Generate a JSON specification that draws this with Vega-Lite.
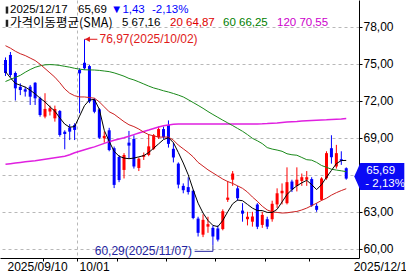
{
  "$schema": "https://vega.github.io/schema/vega-lite/v6.json",
  "width": 359,
  "height": 258,
  "autosize": "none",
  "padding": {"left": 0, "top": 0, "right": 47, "bottom": 17},
  "background": "#ffffff",
  "config": {"view": {"stroke": null}, "text": {"font": "Liberation Sans"}},
  "datasets": {
    "px": [
      {"d":"2025-09-10","i":0,"o":75.29,"h":75.5,"l":74.0,"c":74.24,"m5":74.35,"m20":76.45,"m60":73.55,"m120":66.85},
      {"d":"2025-09-11","i":1,"o":75.7,"h":75.94,"l":73.92,"c":74.08,"m5":73.85,"m20":76.25,"m60":73.72,"m120":66.9},
      {"d":"2025-09-12","i":2,"o":74.24,"h":74.36,"l":72.01,"c":73.0,"m5":73.4,"m20":76.0,"m60":73.88,"m120":66.95},
      {"d":"2025-09-15","i":3,"o":73.12,"h":73.4,"l":72.45,"c":72.86,"m5":73.25,"m20":75.8,"m60":74.05,"m120":67.0},
      {"d":"2025-09-16","i":4,"o":72.92,"h":73.12,"l":72.33,"c":72.73,"m5":73.1,"m20":75.65,"m60":74.3,"m120":67.05},
      {"d":"2025-09-17","i":5,"o":73.13,"h":73.27,"l":71.65,"c":72.32,"m5":72.85,"m20":75.45,"m60":74.52,"m120":67.1},
      {"d":"2025-09-18","i":6,"o":73.45,"h":73.5,"l":71.65,"c":72.19,"m5":72.55,"m20":75.25,"m60":74.7,"m120":67.14},
      {"d":"2025-09-19","i":7,"o":72.19,"h":72.32,"l":70.7,"c":70.84,"m5":72.2,"m20":74.95,"m60":74.82,"m120":67.2},
      {"d":"2025-09-22","i":8,"o":70.71,"h":72.6,"l":70.57,"c":71.33,"m5":71.9,"m20":74.6,"m60":74.9,"m120":67.26},
      {"d":"2025-09-23","i":9,"o":71.12,"h":71.6,"l":70.8,"c":71.38,"m5":71.5,"m20":74.25,"m60":74.92,"m120":67.32},
      {"d":"2025-09-24","i":10,"o":70.57,"h":71.6,"l":70.3,"c":71.33,"m5":71.15,"m20":73.9,"m60":74.9,"m120":67.38},
      {"d":"2025-09-25","i":11,"o":71.16,"h":71.24,"l":69.08,"c":69.22,"m5":70.6,"m20":73.45,"m60":74.85,"m120":67.44},
      {"d":"2025-09-26","i":12,"o":69.49,"h":69.6,"l":68.06,"c":69.3,"m5":70.1,"m20":72.95,"m60":74.78,"m120":67.5},
      {"d":"2025-09-29","i":13,"o":69.83,"h":70.1,"l":68.81,"c":69.49,"m5":69.85,"m20":72.6,"m60":74.71,"m120":67.62},
      {"d":"2025-09-30","i":14,"o":70.03,"h":70.17,"l":68.81,"c":69.63,"m5":69.9,"m20":72.4,"m60":74.62,"m120":67.78},
      {"d":"2025-10-01","i":15,"o":74.48,"h":74.62,"l":70.98,"c":74.21,"m5":70.75,"m20":72.3,"m60":74.55,"m120":67.9},
      {"d":"2025-10-02","i":16,"o":75.07,"h":76.97,"l":74.5,"c":74.62,"m5":71.6,"m20":72.3,"m60":74.5,"m120":68.02},
      {"d":"2025-10-03","i":17,"o":74.8,"h":74.9,"l":71.8,"c":71.93,"m5":72.05,"m20":72.25,"m60":74.49,"m120":68.14},
      {"d":"2025-10-06","i":18,"o":72.1,"h":72.2,"l":70.98,"c":71.1,"m5":72.1,"m20":72.2,"m60":74.48,"m120":68.26},
      {"d":"2025-10-07","i":19,"o":71.3,"h":71.4,"l":68.9,"c":69.0,"m5":71.3,"m20":71.9,"m60":74.45,"m120":68.4},
      {"d":"2025-10-08","i":20,"o":68.95,"h":69.5,"l":68.6,"c":69.15,"m5":69.6,"m20":71.5,"m60":74.4,"m120":68.54},
      {"d":"2025-10-09","i":21,"o":69.6,"h":69.8,"l":67.9,"c":68.0,"m5":68.7,"m20":71.1,"m60":74.35,"m120":68.68},
      {"d":"2025-10-10","i":22,"o":68.15,"h":68.28,"l":64.92,"c":65.18,"m5":67.9,"m20":70.9,"m60":74.25,"m120":68.8},
      {"d":"2025-10-13","i":23,"o":67.44,"h":67.6,"l":65.4,"c":65.57,"m5":67.5,"m20":70.6,"m60":74.12,"m120":68.9},
      {"d":"2025-10-14","i":24,"o":66.39,"h":67.75,"l":65.7,"c":67.6,"m5":67.35,"m20":70.3,"m60":73.98,"m120":69.0},
      {"d":"2025-10-15","i":25,"o":68.6,"h":69.55,"l":67.3,"c":68.36,"m5":67.3,"m20":70.05,"m60":73.8,"m120":69.12},
      {"d":"2025-10-16","i":26,"o":68.9,"h":69.2,"l":66.5,"c":66.67,"m5":67.35,"m20":69.9,"m60":73.68,"m120":69.25},
      {"d":"2025-10-17","i":27,"o":66.55,"h":67.4,"l":66.3,"c":67.3,"m5":67.45,"m20":69.7,"m60":73.52,"m120":69.38},
      {"d":"2025-10-20","i":28,"o":67.45,"h":67.8,"l":67.2,"c":67.6,"m5":67.55,"m20":69.45,"m60":73.35,"m120":69.5},
      {"d":"2025-10-21","i":29,"o":67.6,"h":69.3,"l":67.5,"c":68.3,"m5":67.8,"m20":69.25,"m60":73.18,"m120":69.62},
      {"d":"2025-10-22","i":30,"o":68.1,"h":69.3,"l":68.0,"c":69.2,"m5":68.15,"m20":69.15,"m60":73.03,"m120":69.75},
      {"d":"2025-10-23","i":31,"o":69.04,"h":69.9,"l":68.9,"c":69.7,"m5":68.5,"m20":69.05,"m60":72.92,"m120":69.86},
      {"d":"2025-10-24","i":32,"o":69.7,"h":69.9,"l":68.9,"c":69.04,"m5":68.85,"m20":69.05,"m60":72.8,"m120":69.96},
      {"d":"2025-10-27","i":33,"o":70.03,"h":70.4,"l":68.2,"c":68.5,"m5":69.0,"m20":69.05,"m60":72.7,"m120":70.03},
      {"d":"2025-10-28","i":34,"o":68.1,"h":68.6,"l":67.0,"c":67.4,"m5":68.6,"m20":68.8,"m60":72.58,"m120":70.08},
      {"d":"2025-10-29","i":35,"o":66.9,"h":67.0,"l":64.9,"c":65.2,"m5":67.8,"m20":68.4,"m60":72.45,"m120":70.1},
      {"d":"2025-10-30","i":36,"o":65.1,"h":65.3,"l":64.5,"c":64.75,"m5":66.95,"m20":68.1,"m60":72.3,"m120":70.12},
      {"d":"2025-10-31","i":37,"o":65.0,"h":65.8,"l":64.4,"c":64.6,"m5":66.0,"m20":67.8,"m60":72.08,"m120":70.12},
      {"d":"2025-11-03","i":38,"o":64.7,"h":64.8,"l":62.4,"c":62.5,"m5":64.8,"m20":67.45,"m60":71.85,"m120":70.12},
      {"d":"2025-11-04","i":39,"o":62.45,"h":62.6,"l":61.0,"c":61.3,"m5":63.7,"m20":67.0,"m60":71.62,"m120":70.12},
      {"d":"2025-11-05","i":40,"o":61.15,"h":62.8,"l":60.95,"c":62.35,"m5":62.9,"m20":66.7,"m60":71.38,"m120":70.12},
      {"d":"2025-11-06","i":41,"o":61.8,"h":62.6,"l":61.3,"c":62.0,"m5":62.3,"m20":66.4,"m60":71.12,"m120":70.12},
      {"d":"2025-11-07","i":42,"o":61.7,"h":61.9,"l":60.29,"c":61.0,"m5":61.9,"m20":66.15,"m60":70.88,"m120":70.12},
      {"d":"2025-11-10","i":43,"o":61.65,"h":61.9,"l":60.6,"c":60.75,"m5":61.8,"m20":65.9,"m60":70.65,"m120":70.12},
      {"d":"2025-11-11","i":44,"o":61.6,"h":63.2,"l":61.5,"c":63.05,"m5":62.3,"m20":65.65,"m60":70.42,"m120":70.12},
      {"d":"2025-11-12","i":45,"o":63.97,"h":65.5,"l":63.8,"c":64.15,"m5":63.0,"m20":65.45,"m60":70.2,"m120":70.12},
      {"d":"2025-11-13","i":46,"o":65.6,"h":66.3,"l":65.1,"c":66.1,"m5":63.65,"m20":65.3,"m60":69.98,"m120":70.12},
      {"d":"2025-11-14","i":47,"o":64.9,"h":65.1,"l":63.9,"c":64.1,"m5":63.95,"m20":65.1,"m60":69.75,"m120":70.12},
      {"d":"2025-11-17","i":48,"o":63.1,"h":63.7,"l":62.2,"c":62.85,"m5":63.9,"m20":64.9,"m60":69.52,"m120":70.12},
      {"d":"2025-11-18","i":49,"o":62.4,"h":63.0,"l":61.9,"c":62.6,"m5":63.6,"m20":64.6,"m60":69.25,"m120":70.12},
      {"d":"2025-11-19","i":50,"o":62.2,"h":63.0,"l":61.8,"c":62.62,"m5":63.3,"m20":64.2,"m60":68.95,"m120":70.12},
      {"d":"2025-11-20","i":51,"o":63.6,"h":63.7,"l":61.6,"c":61.8,"m5":63.1,"m20":63.85,"m60":68.75,"m120":70.12},
      {"d":"2025-11-21","i":52,"o":61.94,"h":63.0,"l":61.7,"c":62.75,"m5":63.1,"m20":63.45,"m60":68.52,"m120":70.13},
      {"d":"2025-11-24","i":53,"o":62.4,"h":62.6,"l":61.6,"c":61.8,"m5":62.95,"m20":63.15,"m60":68.2,"m120":70.15},
      {"d":"2025-11-25","i":54,"o":62.4,"h":63.9,"l":62.2,"c":63.65,"m5":62.95,"m20":63.0,"m60":68.08,"m120":70.18},
      {"d":"2025-11-26","i":55,"o":63.6,"h":64.9,"l":63.3,"c":64.5,"m5":63.2,"m20":62.95,"m60":68.0,"m120":70.2},
      {"d":"2025-11-28","i":56,"o":64.5,"h":65.3,"l":63.6,"c":64.7,"m5":63.8,"m20":62.9,"m60":67.9,"m120":70.24},
      {"d":"2025-12-01","i":57,"o":63.7,"h":66.6,"l":63.6,"c":65.4,"m5":64.4,"m20":62.92,"m60":67.7,"m120":70.27},
      {"d":"2025-12-02","i":58,"o":65.45,"h":65.6,"l":64.6,"c":64.8,"m5":64.8,"m20":62.98,"m60":67.62,"m120":70.3},
      {"d":"2025-12-03","i":59,"o":65.1,"h":66.6,"l":64.65,"c":65.6,"m5":65.1,"m20":63.03,"m60":67.58,"m120":70.32},
      {"d":"2025-12-04","i":60,"o":65.5,"h":66.1,"l":65.1,"c":65.8,"m5":65.35,"m20":63.15,"m60":67.4,"m120":70.35},
      {"d":"2025-12-05","i":61,"o":65.6,"h":66.3,"l":65.1,"c":65.8,"m5":65.55,"m20":63.3,"m60":67.22,"m120":70.37},
      {"d":"2025-12-08","i":62,"o":65.65,"h":65.8,"l":63.4,"c":63.5,"m5":65.2,"m20":63.5,"m60":67.18,"m120":70.39},
      {"d":"2025-12-09","i":63,"o":63.48,"h":63.7,"l":63.0,"c":63.16,"m5":64.8,"m20":63.7,"m60":67.0,"m120":70.41},
      {"d":"2025-12-10","i":64,"o":63.97,"h":65.8,"l":63.9,"c":65.7,"m5":65.2,"m20":63.92,"m60":66.75,"m120":70.43},
      {"d":"2025-12-11","i":65,"o":65.72,"h":67.9,"l":65.6,"c":67.75,"m5":65.8,"m20":64.1,"m60":66.6,"m120":70.45},
      {"d":"2025-12-12","i":66,"o":68.15,"h":69.2,"l":66.9,"c":67.42,"m5":66.35,"m20":64.35,"m60":66.45,"m120":70.48},
      {"d":"2025-12-15","i":67,"o":66.67,"h":68.42,"l":66.5,"c":67.75,"m5":66.9,"m20":64.55,"m60":66.38,"m120":70.5},
      {"d":"2025-12-16","i":68,"o":67.26,"h":67.9,"l":66.8,"c":67.12,"m5":67.15,"m20":64.72,"m60":66.32,"m120":70.52},
      {"d":"2025-12-17","i":69,"o":66.53,"h":66.6,"l":65.6,"c":65.69,"m5":67.16,"m20":64.87,"m60":66.25,"m120":70.55}
    ]
  },
  "data": {"name": "px"},
  "layer": [
    {
      "mark": {"type": "rule", "strokeWidth": 1},
      "encoding": {
        "x": {
          "field": "i", "type": "quantitative", "title": null,
          "scale": {"domain": [-0.1, 70.57], "nice": false, "zero": false},
          "axis": {
            "orient": "bottom", "title": null,
            "values": [-0.1, 2.5, 7.5, 12.5, 14.5, 17.5, 22.5, 27.5, 32.5, 37.5, 42.5, 47.5, 52.5, 56.5, 61.5, 66.5, 70],
            "labelExpr": "datum.value == -0.1 ? '2025/09/10' : datum.value == 14.5 ? '10/01' : datum.value == 37.5 ? '11/03' : datum.value == 56.5 ? '12/01' : datum.value == 70 ? '2025/12/17' : ''",
            "labelAlign": "left", "labelOffset": 2, "labelPadding": 0,
            "labelFont": "Liberation Sans", "labelFontSize": 12, "labelColor": "#000000",
            "labelBound": false, "labelOverlap": false, "labelFlush": false,
            "tickSize": 3, "tickColor": "#000000",
            "tickOpacity": {"condition": {"test": "datum.value == -0.1 || datum.value == 70", "value": 0}, "value": 1},
            "grid": true, "gridDash": [3, 3], "gridColor": "#b8b8b8",
            "gridOpacity": {"condition": {"test": "datum.value == 14.5 || datum.value == 37.5 || datum.value == 56.5", "value": 1}, "value": 0},
            "domainColor": "#000000"
          }
        },
        "y": {
          "field": "l", "type": "quantitative", "title": null,
          "scale": {"domain": [59.26, 80.15], "nice": false, "zero": false},
          "axis": {
            "orient": "right", "title": null,
            "values": [60, 60.75, 61.5, 62.25, 63, 63.75, 64.5, 65.25, 66, 66.75, 67.5, 68.25, 69, 69.75, 70.5, 71.25, 72, 72.75, 73.5, 74.25, 75, 75.75, 76.5, 77.25, 78, 78.75, 79.5],
            "labelExpr": "datum.value % 3 == 0 && datum.value != 66 ? replace(format(datum.value, '.2f'), '.', ',') : ''",
            "labelFont": "Liberation Sans", "labelFontSize": 12, "labelColor": "#000000",
            "labelPadding": 1, "labelBound": false, "labelOverlap": false, "labelFlush": false,
            "tickSize": 3, "tickColor": "#000000",
            "grid": true, "gridDash": [3, 3], "gridColor": "#b8b8b8",
            "gridOpacity": {"condition": {"test": "datum.value % 3 == 0", "value": 1}, "value": 0},
            "domainColor": "#000000"
          }
        },
        "y2": {"field": "h"},
        "color": {"condition": {"test": "datum.c >= datum.o", "value": "#ff0000"}, "value": "#0000ff"}
      }
    },
    {
      "mark": {"type": "bar", "width": 3},
      "encoding": {
        "x": {"field": "i", "type": "quantitative", "title": null},
        "y": {"field": "o", "type": "quantitative", "title": null},
        "y2": {"field": "c"},
        "color": {"condition": {"test": "datum.c >= datum.o", "value": "#ff0000"}, "value": "#0000ff"}
      }
    },
    {
      "mark": {"type": "line", "color": "#e020e0", "strokeWidth": 1.5},
      "encoding": {
        "x": {"field": "i", "type": "quantitative", "title": null},
        "y": {"field": "m120", "type": "quantitative", "title": null}
      }
    },
    {
      "mark": {"type": "line", "color": "#1a8a1a", "strokeWidth": 1},
      "encoding": {
        "x": {"field": "i", "type": "quantitative", "title": null},
        "y": {"field": "m60", "type": "quantitative", "title": null}
      }
    },
    {
      "mark": {"type": "line", "color": "#cc2020", "strokeWidth": 1},
      "encoding": {
        "x": {"field": "i", "type": "quantitative", "title": null},
        "y": {"field": "m20", "type": "quantitative", "title": null}
      }
    },
    {
      "mark": {"type": "line", "color": "#000000", "strokeWidth": 1},
      "encoding": {
        "x": {"field": "i", "type": "quantitative", "title": null},
        "y": {"field": "m5", "type": "quantitative", "title": null}
      }
    },
    {
      "data": {"values": [{"i": 16, "i2": 18.6, "p": 76.97, "t": "76,97(2025/10/02)"}]},
      "layer": [
        {
          "mark": {"type": "rule", "color": "#e01a1a", "strokeWidth": 1},
          "encoding": {
            "x": {"field": "i", "type": "quantitative", "title": null},
            "x2": {"field": "i2"},
            "y": {"field": "p", "type": "quantitative", "title": null}
          }
        },
        {
          "mark": {"type": "point", "shape": "triangle-left", "filled": true, "size": 30, "color": "#e01a1a", "opacity": 1, "xOffset": 3},
          "encoding": {
            "x": {"field": "i", "type": "quantitative", "title": null},
            "y": {"field": "p", "type": "quantitative", "title": null}
          }
        },
        {
          "mark": {"type": "text", "align": "left", "baseline": "middle", "dx": 15, "color": "#e01a1a", "fontSize": 12, "font": "Liberation Sans"},
          "encoding": {
            "x": {"field": "i", "type": "quantitative", "title": null},
            "y": {"field": "p", "type": "quantitative", "title": null},
            "text": {"field": "t"}
          }
        }
      ]
    },
    {
      "data": {"values": [{"i": 42, "i0": 38.3, "p": 60.29, "p0": 59.8, "t": "60,29(2025/11/07)"}]},
      "layer": [
        {
          "mark": {"type": "rule", "color": "#2424a0", "strokeWidth": 1},
          "encoding": {
            "x": {"field": "i0", "type": "quantitative", "title": null},
            "x2": {"field": "i"},
            "y": {"field": "p0", "type": "quantitative", "title": null}
          }
        },
        {
          "mark": {"type": "rule", "color": "#2424a0", "strokeWidth": 1},
          "encoding": {
            "x": {"field": "i", "type": "quantitative", "title": null},
            "y": {"field": "p", "type": "quantitative", "title": null},
            "y2": {"field": "p0"}
          }
        },
        {
          "mark": {"type": "text", "align": "right", "baseline": "middle", "dx": -21, "dy": 6, "color": "#2424a0", "fontSize": 12, "font": "Liberation Sans"},
          "encoding": {
            "x": {"field": "i", "type": "quantitative", "title": null},
            "y": {"field": "p", "type": "quantitative", "title": null},
            "text": {"field": "t"}
          }
        }
      ]
    },
    {
      "data": {"values": [{"x0": -0.1, "xm": 0.3, "y1": 79.38, "y2": 78.29, "a1": 79.62, "b1": 79.05, "a2": 78.55, "b2": 77.98, "bx": 75.69, "by": 65.69}]},
      "layer": [
        {
          "mark": {"type": "rule", "color": "#222222", "strokeWidth": 2.5},
          "encoding": {"x": {"field": "xm", "type": "quantitative", "title": null}, "y": {"field": "a1", "type": "quantitative", "title": null}, "y2": {"field": "b1"}}
        },
        {
          "mark": {"type": "rule", "color": "#222222", "strokeWidth": 2.5},
          "encoding": {"x": {"field": "xm", "type": "quantitative", "title": null}, "y": {"field": "a2", "type": "quantitative", "title": null}, "y2": {"field": "b2"}}
        },
        {
          "mark": {"type": "text", "align": "left", "baseline": "middle", "dx": 5, "color": "#000000", "fontSize": 11.5, "font": "Liberation Sans"},
          "encoding": {"x": {"field": "x0", "type": "quantitative", "title": null}, "y": {"field": "y1", "type": "quantitative", "title": null}, "text": {"value": "2025/12/17"}}
        },
        {
          "mark": {"type": "text", "align": "left", "baseline": "middle", "dx": 73, "color": "#000000", "fontSize": 11.5, "font": "Liberation Sans"},
          "encoding": {"x": {"field": "x0", "type": "quantitative", "title": null}, "y": {"field": "y1", "type": "quantitative", "title": null}, "text": {"value": "65,69"}}
        },
        {
          "mark": {"type": "text", "align": "left", "baseline": "middle", "dx": 106, "color": "#0000ff", "fontSize": 11.5, "font": "Liberation Sans"},
          "encoding": {"x": {"field": "x0", "type": "quantitative", "title": null}, "y": {"field": "y1", "type": "quantitative", "title": null}, "text": {"value": "▼1,43"}}
        },
        {
          "mark": {"type": "text", "align": "left", "baseline": "middle", "dx": 147, "color": "#0000ff", "fontSize": 11.5, "font": "Liberation Sans"},
          "encoding": {"x": {"field": "x0", "type": "quantitative", "title": null}, "y": {"field": "y1", "type": "quantitative", "title": null}, "text": {"value": "-2,13%"}}
        },
        {
          "mark": {"type": "text", "align": "left", "baseline": "middle", "dx": 5, "color": "#000000", "fontSize": 12.5, "font": "Noto Sans CJK KR"},
          "encoding": {"x": {"field": "x0", "type": "quantitative", "title": null}, "y": {"field": "y2", "type": "quantitative", "title": null}, "text": {"value": "가격이동평균(SMA)"}}
        },
        {
          "mark": {"type": "text", "align": "left", "baseline": "middle", "dx": 117, "color": "#000000", "fontSize": 11.5, "font": "Liberation Sans"},
          "encoding": {"x": {"field": "x0", "type": "quantitative", "title": null}, "y": {"field": "y2", "type": "quantitative", "title": null}, "text": {"value": "5 67,16"}}
        },
        {
          "mark": {"type": "text", "align": "left", "baseline": "middle", "dx": 165, "color": "#e00000", "fontSize": 11.5, "font": "Liberation Sans"},
          "encoding": {"x": {"field": "x0", "type": "quantitative", "title": null}, "y": {"field": "y2", "type": "quantitative", "title": null}, "text": {"value": "20 64,87"}}
        },
        {
          "mark": {"type": "text", "align": "left", "baseline": "middle", "dx": 218, "color": "#008000", "fontSize": 11.5, "font": "Liberation Sans"},
          "encoding": {"x": {"field": "x0", "type": "quantitative", "title": null}, "y": {"field": "y2", "type": "quantitative", "title": null}, "text": {"value": "60 66,25"}}
        },
        {
          "mark": {"type": "text", "align": "left", "baseline": "middle", "dx": 272, "color": "#cc00cc", "fontSize": 11.5, "font": "Liberation Sans"},
          "encoding": {"x": {"field": "x0", "type": "quantitative", "title": null}, "y": {"field": "y2", "type": "quantitative", "title": null}, "text": {"value": "120 70,55"}}
        },
        {
          "mark": {"type": "point", "shape": "M-1,0L-0.76,-0.54L1,-0.54L1,0.54L-0.76,0.54Z", "size": 2500, "filled": true, "color": "#0a0af5", "opacity": 1, "clip": false, "yOffset": -2},
          "encoding": {"x": {"field": "bx", "type": "quantitative", "title": null}, "y": {"field": "by", "type": "quantitative", "title": null}}
        },
        {
          "mark": {"type": "text", "align": "left", "baseline": "middle", "dx": -13, "dy": -7.5, "color": "#ffffff", "fontSize": 11.5, "font": "Liberation Sans", "clip": false},
          "encoding": {"x": {"field": "bx", "type": "quantitative", "title": null}, "y": {"field": "by", "type": "quantitative", "title": null}, "text": {"value": "65,69"}}
        },
        {
          "mark": {"type": "text", "align": "left", "baseline": "middle", "dx": -14, "dy": 5.5, "color": "#ffffff", "fontSize": 11.5, "font": "Liberation Sans", "clip": false},
          "encoding": {"x": {"field": "bx", "type": "quantitative", "title": null}, "y": {"field": "by", "type": "quantitative", "title": null}, "text": {"value": "- 2,13%"}}
        }
      ]
    }
  ]
}
